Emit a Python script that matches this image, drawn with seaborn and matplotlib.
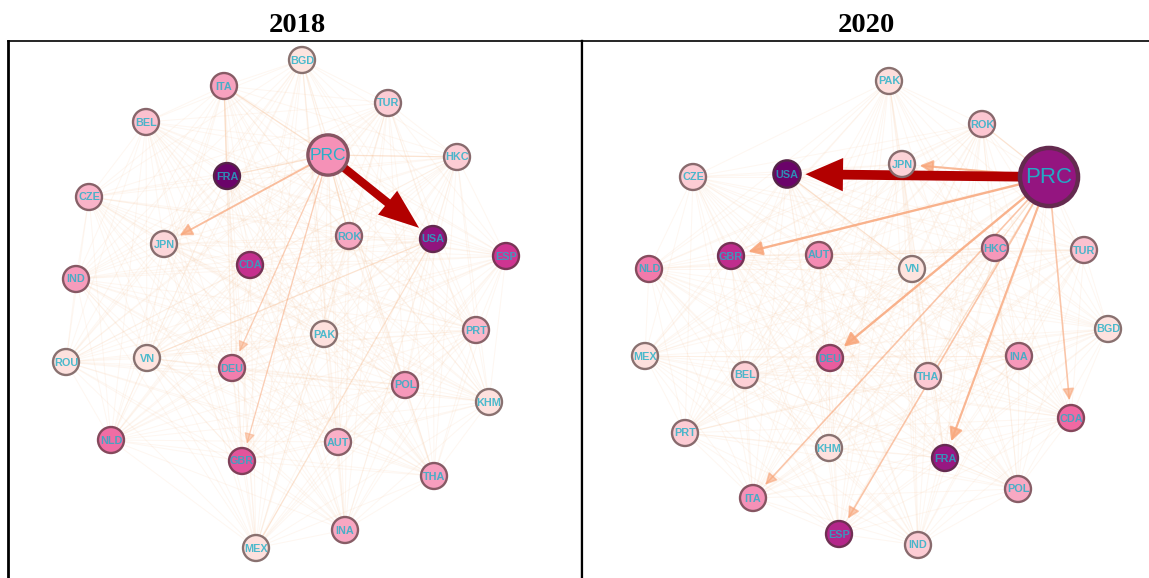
import numpy as np
import pandas as pd
import matplotlib
matplotlib.use("Agg")
import matplotlib.pyplot as plt
import seaborn as sns
from matplotlib.colors import LinearSegmentedColormap, to_rgb
from matplotlib.collections import LineCollection
from matplotlib.patches import FancyArrowPatch, ArrowStyle

sns.set_theme(style="white")
plt.rcParams['font.family'] = ['Liberation Sans', 'DejaVu Sans']

# ---------------- data ----------------
titles = ["2018", "2020"]

nodes_2018 = ["BGD", "ITA", "TUR", "BEL", "PRC", "HKC", "FRA", "CZE", "JPN", "ROK",
              "USA", "CDA", "ESP", "IND", "PRT", "PAK", "ROU", "VN", "DEU", "POL",
              "KHM", "NLD", "AUT", "GBR", "THA", "INA", "MEX"]
layout_x_2018 = [302, 224, 388, 146, 328, 457, 227, 89, 164, 349,
                 433, 250, 506, 76, 476, 324, 66, 147, 232, 405,
                 489, 111, 338, 242, 434, 345, 256]
layout_y_2018 = [60, 86, 103, 122, 155, 157, 176, 197, 244, 236,
                 239, 265, 256, 279, 330, 334, 362, 358, 368, 385,
                 402, 440, 442, 461, 476, 530, 548]
level_2018 = [0.03, 0.33, 0.15, 0.20, 0.38, 0.15, 0.98, 0.26, 0.10, 0.31,
              0.87, 0.70, 0.67, 0.35, 0.24, 0.05, 0.04, 0.03, 0.44, 0.36,
              0.04, 0.49, 0.27, 0.57, 0.34, 0.31, 0.04]
strength_2018 = [1.0, 1.0, 1.0, 1.0, 2.4, 1.0, 1.0, 1.0, 1.0, 1.0,
                 1.0, 1.0, 1.0, 1.0, 1.0, 1.0, 1.0, 1.0, 1.0, 1.0,
                 1.0, 1.0, 1.0, 1.0, 1.0, 1.0, 1.0]
major_flow_2018 = [("PRC", "USA")]
minor_flow_2018 = [("PRC", "JPN"), ("PRC", "DEU"), ("PRC", "GBR")]
minor_value_2018 = [0.6, 0.25, 0.25]
visible_links_2018 = [("ITA", "PRC"), ("PRC", "HKC"), ("ITA", "FRA"), ("VN", "USA"),
                      ("MEX", "USA"), ("PRC", "FRA"), ("PRC", "ROK")]

nodes_2020 = ["PAK", "ROK", "JPN", "CZE", "USA", "PRC", "GBR", "NLD", "AUT", "VN",
              "HKC", "TUR", "BGD", "MEX", "DEU", "INA", "BEL", "THA", "CDA", "PRT",
              "KHM", "FRA", "POL", "ITA", "ESP", "IND"]
layout_x_2020 = [889, 982, 902, 693, 787, 1049, 731, 649, 819, 912,
                 995, 1084, 1108, 645, 830, 1019, 745, 928, 1071, 685,
                 829, 945, 1018, 753, 839, 918]
layout_y_2020 = [81, 124, 164, 177, 174, 177, 256, 269, 255, 269,
                 248, 250, 329, 356, 358, 356, 375, 376, 418, 433,
                 448, 458, 489, 498, 534, 545]
level_2020 = [0.06, 0.18, 0.12, 0.15, 0.98, 0.86, 0.72, 0.45, 0.40, 0.03,
              0.36, 0.20, 0.04, 0.05, 0.54, 0.36, 0.14, 0.17, 0.50, 0.15,
              0.04, 0.85, 0.30, 0.38, 0.76, 0.15]
strength_2020 = [1.0, 1.0, 1.0, 1.0, 1.1, 5.0, 1.0, 1.0, 1.0, 1.0,
                 1.0, 1.0, 1.0, 1.0, 1.0, 1.0, 1.0, 1.0, 1.0, 1.0,
                 1.0, 1.0, 1.0, 1.0, 1.0, 1.0]
major_flow_2020 = [("PRC", "USA")]
minor_flow_2020 = [("PRC", "JPN"), ("PRC", "GBR"), ("PRC", "DEU"), ("PRC", "ITA"),
                   ("PRC", "ESP"), ("PRC", "FRA"), ("PRC", "CDA")]
minor_value_2020 = [0.7, 0.85, 0.85, 0.45, 0.45, 0.75, 0.45]
visible_links_2020 = [("USA", "VN"), ("PRC", "ROK"), ("PRC", "HKC"), ("PRC", "THA")]

# ---------------- style ----------------
cmap = LinearSegmentedColormap.from_list(
    "nodes", ["#fde9e1", "#fcc9d3", "#f7a1bf", "#f06aa2", "#d03591", "#9e1a85", "#640066"])
SIZE_RANGE = (350, 1750)
SIZE_NORM = (1.0, 5.0)
LABEL_COLOR = "#1fb0c8"
MESH_COLOR = "#f8c49a"


def node_area(w):
    return SIZE_RANGE[0] + (w - SIZE_NORM[0]) / (SIZE_NORM[1] - SIZE_NORM[0]) * (SIZE_RANGE[1] - SIZE_RANGE[0])


def edge_of(level):
    c = np.array(to_rgb(cmap(level)))
    base = np.array(to_rgb("#4a3535"))
    return tuple(0.35 * c + 0.65 * base)


def draw_panel(ax, names, xs, ys, levels, strengths, major, minor, minor_vals, links,
               prc_font, big_head):
    df = pd.DataFrame({"name": names, "x": xs, "y": ys, "level": levels, "strength": strengths})
    pos = {n: (x, y) for n, x, y in zip(names, xs, ys)}
    area = {n: node_area(w) for n, w in zip(names, strengths)}

    # faint mesh between all nodes
    segs = []
    for i in range(len(names)):
        for j in range(i + 1, len(names)):
            segs.append([pos[names[i]], pos[names[j]]])
    ax.add_collection(LineCollection(segs, colors=MESH_COLOR, linewidths=0.7, alpha=0.14, zorder=1))
    vis = [[pos[a], pos[b]] for a, b in links]
    ax.add_collection(LineCollection(vis, colors="#f7be94", linewidths=0.9, alpha=0.35, zorder=1.5))

    # minor flows
    for (a, b), v in zip(minor, minor_vals):
        arr = FancyArrowPatch(pos[a], pos[b], arrowstyle="-|>,head_length=0.55,head_width=0.28",
                              mutation_scale=10 + 6 * v, color="#f8a77c", lw=0.6 + 1.3 * v,
                              alpha=0.35 + 0.6 * v,
                              shrinkA=np.sqrt(area[a]) / 2, shrinkB=np.sqrt(area[b]) / 2 + 3.5,
                              zorder=2)
        ax.add_patch(arr)
    # major flow
    hl, hw, tw = big_head
    for a, b in major:
        style = ArrowStyle("simple", head_length=hl, head_width=hw, tail_width=tw)
        arr = FancyArrowPatch(pos[a], pos[b], arrowstyle=style, mutation_scale=1,
                              color="#b20000", lw=0,
                              shrinkA=np.sqrt(area[a]) / 2, shrinkB=np.sqrt(area[b]) / 2 + 3.5,
                              zorder=2.5)
        ax.add_patch(arr)

    # nodes
    edgecols = [edge_of(l) for l in levels]
    lws = [3.2 if w > 3 else (2.4 if w > 2 else 1.7) for w in strengths]
    sns.scatterplot(data=df, x="x", y="y", hue="level", palette=cmap, hue_norm=(0, 1),
                    size="strength", sizes=SIZE_RANGE, size_norm=SIZE_NORM,
                    edgecolor=edgecols, linewidth=lws, legend=False, ax=ax, zorder=3)

    for n, x, y, w in zip(names, xs, ys, strengths):
        if n == "PRC":
            ax.text(x, y + 0.5, n, ha="center", va="center", fontsize=prc_font,
                    color=LABEL_COLOR, alpha=0.95, zorder=4)
        else:
            ax.text(x, y + 0.5, n, ha="center", va="center", fontsize=7.8, fontweight="bold",
                    color=LABEL_COLOR, alpha=0.8, zorder=4)


W, H = 1149, 578
fig = plt.figure(figsize=(W / 100, H / 100), dpi=100)
fig.patch.set_facecolor("white")

ax1 = fig.add_axes([8 / W, 0, (582 - 8) / W, (H - 41) / H])
ax2 = fig.add_axes([582 / W, 0, (W - 582) / W, (H - 41) / H])
ax1.set_xlim(8, 582)
ax2.set_xlim(582, W)
for ax in (ax1, ax2):
    ax.set_ylim(H, 41)
    ax.set_facecolor("white")

draw_panel(ax1, nodes_2018, layout_x_2018, layout_y_2018, level_2018, strength_2018,
           major_flow_2018, minor_flow_2018, minor_value_2018, visible_links_2018,
           12.5, (29, 22, 6))
draw_panel(ax2, nodes_2020, layout_x_2020, layout_y_2020, level_2020, strength_2020,
           major_flow_2020, minor_flow_2020, minor_value_2020, visible_links_2020,
           16, (27, 24, 7))

for ax in (ax1, ax2):
    ax.set_xticks([])
    ax.set_yticks([])
    ax.set_xlabel("")
    ax.set_ylabel("")
    for s in ax.spines.values():
        s.set_color("black")
    ax.spines["bottom"].set_visible(False)
    ax.spines["top"].set_linewidth(1.2)
ax1.spines["left"].set_linewidth(2.0)
ax1.spines["right"].set_linewidth(1.6)
ax2.spines["left"].set_linewidth(1.6)
ax2.spines["right"].set_visible(False)

fig.text(297 / W, 1 - 26 / H, titles[0], ha="center", va="center", fontsize=20.5,
         fontweight="bold", family="Liberation Serif", color="black")
fig.text(866 / W, 1 - 26 / H, titles[1], ha="center", va="center", fontsize=20.5,
         fontweight="bold", family="Liberation Serif", color="black")

fig.savefig("out.png", dpi=100)
